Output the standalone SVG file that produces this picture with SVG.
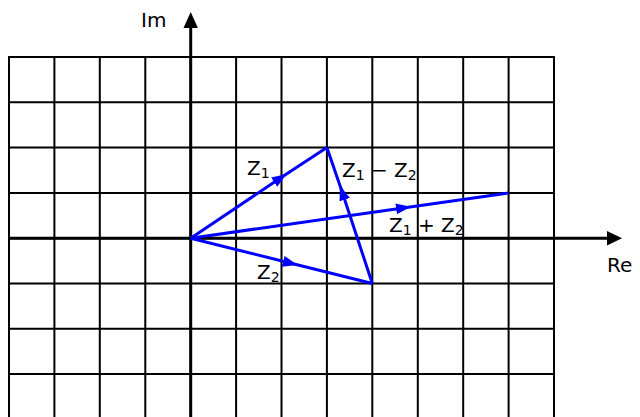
<svg xmlns="http://www.w3.org/2000/svg" width="640" height="417" viewBox="0 0 640 417">
<defs>
<style>
.grid{stroke:#000;stroke-width:2;fill:none}
.axis{stroke:#000;stroke-width:3;fill:none}
.vec{stroke:#0000ff;stroke-width:3;fill:none;marker-mid:url(#mid)}
.lbl{font-family:"DejaVu Sans",sans-serif;font-size:20px;fill:#000}
.sub{font-size:14px}
</style>
<marker id="mid" markerUnits="userSpaceOnUse" markerWidth="16" markerHeight="12" refX="7" refY="5.5" orient="auto" viewBox="0 0 16 11">
<path d="M0,0 L15,5.5 L0,11 z" fill="#0000ff"/>
</marker>
</defs>
<g id="grid">
<path class="grid" d="M9,57V417 M54.4,57V417 M99.8,57V417 M145.3,57V417 M190.7,57V417 M236.1,57V417 M281.5,57V417 M326.9,57V417 M372.3,57V417 M417.8,57V417 M463.2,57V417 M508.6,57V417 M554,57V417"/>
<path class="grid" d="M8,57H555 M8,102.3H555 M8,147.6H555 M8,192.9H555 M8,238.2H555 M8,283.5H555 M8,328.8H555 M8,374.1H555"/>
</g>
<g id="axes">
<path class="axis" d="M9,238.2H609"/>
<polygon points="607,231 622,238.2 607,245.4" fill="#000"/>
<path class="axis" d="M190.7,417V26"/>
<polygon points="183.5,28 190.7,12 197.9,28" fill="#000"/>
<text class="lbl" x="141" y="27">Im</text>
<text class="lbl" x="607" y="272">Re</text>
</g>
<g id="connectors">
<path id="z1" class="vec" d="M190.7,238.2 L280,178.3 L326.9,147.6"/>
<path id="z2" class="vec" d="M190.7,238.2 L290,263 L372.3,283.5"/>
<path id="zsum" class="vec" d="M190.7,238.2 L403,207.9 L508.6,192.9"/>
<path id="zdiff" class="vec" d="M372.3,283.5 L342.5,193 L326.9,147.6"/>
</g>
<g id="labels">
<text class="lbl" x="247" y="175">Z<tspan class="sub" dy="3">1</tspan></text>
<text class="lbl" x="342" y="177">Z<tspan class="sub" dy="3">1</tspan><tspan dy="-3"> − Z</tspan><tspan class="sub" dy="3">2</tspan></text>
<text class="lbl" x="389" y="232">Z<tspan class="sub" dy="3">1</tspan><tspan dy="-3"> + Z</tspan><tspan class="sub" dy="3">2</tspan></text>
<text class="lbl" x="257" y="279">Z<tspan class="sub" dy="3">2</tspan></text>
</g>
</svg>
